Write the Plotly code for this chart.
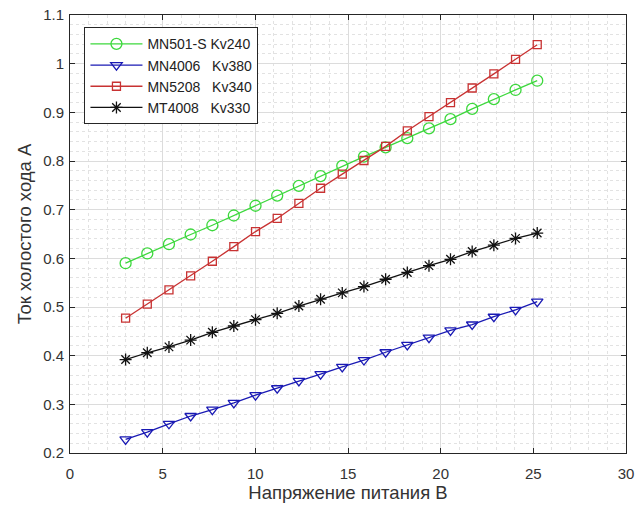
import plotly.graph_objects as go

# Supply voltage, V
voltage = [3.0, 4.17, 5.34, 6.51, 7.68, 8.84, 10.01, 11.18, 12.35, 13.52,
           14.69, 15.86, 17.03, 18.2, 19.37, 20.53, 21.7, 22.87, 24.04, 25.21]

# No-load current, A
mn501s = [0.590, 0.610, 0.629, 0.649, 0.668, 0.688, 0.708, 0.729, 0.749, 0.769,
          0.790, 0.809, 0.828, 0.847, 0.867, 0.886, 0.907, 0.927, 0.946, 0.965]
mn4006 = [0.228, 0.243, 0.260, 0.276, 0.289, 0.303, 0.319, 0.333, 0.348, 0.362,
          0.377, 0.391, 0.407, 0.422, 0.437, 0.452, 0.464, 0.480, 0.494, 0.511]
mn5208 = [0.477, 0.506, 0.535, 0.564, 0.594, 0.624, 0.655, 0.682, 0.713, 0.744,
          0.773, 0.801, 0.830, 0.862, 0.891, 0.920, 0.950, 0.979, 1.009, 1.039]
mt4008 = [0.392, 0.406, 0.418, 0.432, 0.448, 0.461, 0.474, 0.487, 0.502, 0.516,
          0.529, 0.542, 0.557, 0.571, 0.585, 0.598, 0.614, 0.627, 0.641, 0.652]

NB = "\u00a0"
names = ["MN501-S Kv240",
         "MN4006" + NB * 3 + "Kv380",
         "MN5208" + NB * 3 + "Kv340",
         "MT4008" + NB * 3 + "Kv330"]

x_ticks = [0, 5, 10, 15, 20, 25, 30]
y_ticks = [0.2, 0.3, 0.4, 0.5, 0.6, 0.7, 0.8, 0.9, 1.0, 1.1]
y_tick_text = ["0.2", "0.3", "0.4", "0.5", "0.6", "0.7", "0.8", "0.9", "1", "1.1"]

styles = [
    dict(color="#3cd83c", symbol="circle-open", size=11),
    dict(color="#1a1ab4", symbol="triangle-down-open", size=10),
    dict(color="#c83232", symbol="square-open", size=8),
    dict(color="#111111", symbol="asterisk-open", size=10),
]

fig = go.Figure()
for name, ys, st in zip(names, [mn501s, mn4006, mn5208, mt4008], styles):
    fig.add_trace(go.Scatter(
        x=voltage, y=ys, name=name, mode="lines+markers",
        line=dict(color=st["color"], width=1.3),
        marker=dict(symbol=st["symbol"], size=st["size"],
                    line=dict(color=st["color"], width=1.3)),
    ))

FONT = "Liberation Sans, Arial, sans-serif"
tick_font = dict(family=FONT, size=15, color="#333333")
title_font = dict(family=FONT, size=18.5, color="#333333")
common = dict(
    showline=True, linecolor="#262626", linewidth=1, mirror="ticks",
    ticks="inside", ticklen=5, tickcolor="#262626",
    showgrid=True, gridcolor="#dcdcdc", gridwidth=1,
    zeroline=False, tickfont=tick_font, automargin=False,
)

fig.update_xaxes(
    range=[0, 30], tickvals=x_ticks, ticklabelstandoff=7,
    title=dict(text="Напряжение питания В", font=title_font, standoff=5),
    minor=dict(dtick=1, tick0=0, showgrid=True, gridcolor="#e2e2e2",
               griddash="dot", ticks=""),
    **common,
)
fig.update_yaxes(
    range=[0.2, 1.1], tickvals=y_ticks, ticktext=y_tick_text, ticklabelstandoff=2,
    title=dict(text="Ток холостого хода А", font=title_font, standoff=6),
    minor=dict(dtick=0.02, tick0=0.2, showgrid=True, gridcolor="#e2e2e2",
               griddash="dot", ticks=""),
    **common,
)

fig.update_layout(
    width=638, height=508,
    margin=dict(l=70, r=12, t=15, b=55),
    paper_bgcolor="white", plot_bgcolor="white",
    font=dict(family=FONT, color="#222222"),
    legend=dict(
        x=0.026, y=0.972, xanchor="left", yanchor="top",
        bgcolor="white", bordercolor="#262626", borderwidth=1,
        font=dict(family=FONT, size=14, color="#222222"),
        tracegroupgap=0, itemwidth=52,
    ),
)

fig.write_html("out.html")
